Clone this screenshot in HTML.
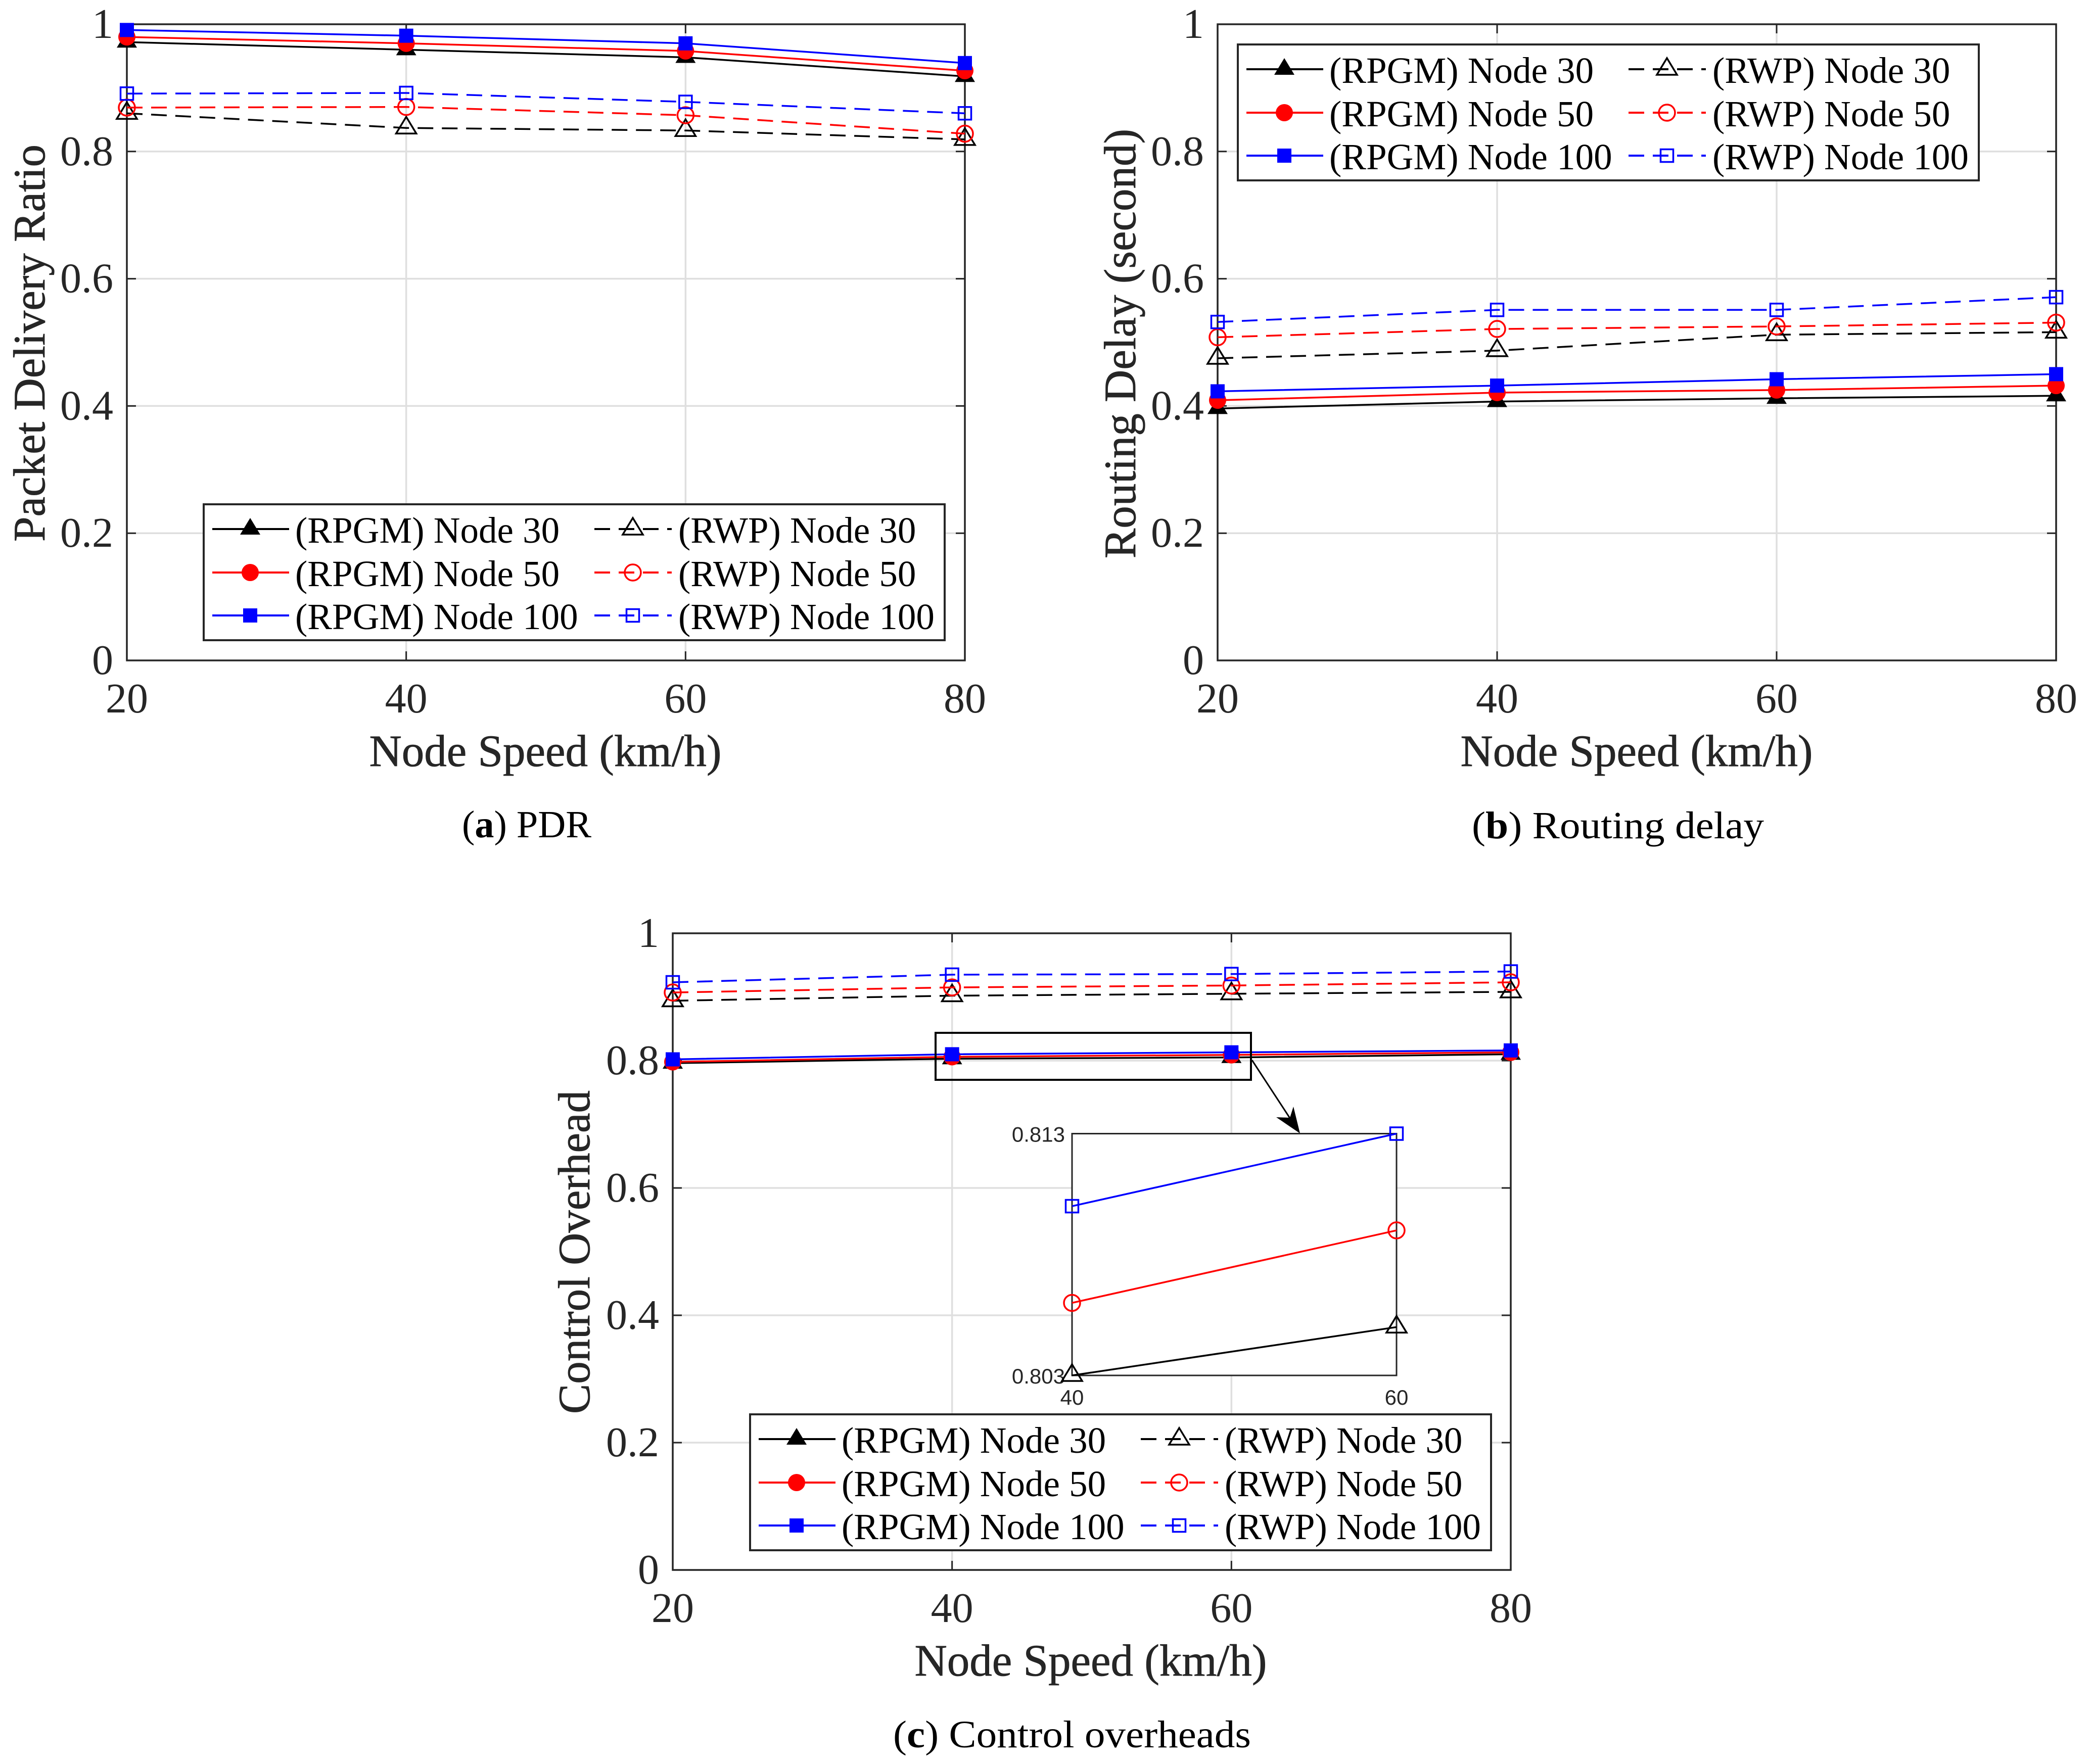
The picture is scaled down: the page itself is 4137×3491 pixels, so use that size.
<!DOCTYPE html>
<html lang="en">
<head>
<meta charset="utf-8">
<title>RPGM vs RWP performance charts</title>
<style>
  html, body { margin: 0; padding: 0; background: #fff; }
  svg { display: block; }
  text { font-family: "Liberation Serif", serif; }
</style>
</head>
<body>
<svg id="figure" xmlns="http://www.w3.org/2000/svg" width="4137" height="3491" viewBox="0 0 4137 3491">
  <rect x="0" y="0" width="4137" height="3491" fill="#ffffff"/>
  <text x="1042" y="1657" text-anchor="middle" font-size="76" textLength="256" lengthAdjust="spacingAndGlyphs" fill="#000">(<tspan font-weight="bold">a</tspan>) PDR</text>
  <text x="3201" y="1659" text-anchor="middle" font-size="76" textLength="578" lengthAdjust="spacingAndGlyphs" fill="#000">(<tspan font-weight="bold">b</tspan>) Routing delay</text>
  <text x="2121" y="3458" text-anchor="middle" font-size="76" textLength="708" lengthAdjust="spacingAndGlyphs" fill="#000">(<tspan font-weight="bold">c</tspan>) Control overheads</text>
</svg>
<script>
// Shared axis data
const speedCategories = [20, 40, 60, 80];
const yTickValues = [0, 0.2, 0.4, 0.6, 0.8, 1];
const yTickLabels = ['0', '0.2', '0.4', '0.6', '0.8', '1'];
const xTickLabels = ['20', '40', '60', '80'];
const seriesNames = ['(RPGM) Node 30', '(RPGM) Node 50', '(RPGM) Node 100', '(RWP) Node 30', '(RWP) Node 50', '(RWP) Node 100'];

// Panel (a) Packet Delivery Ratio
const pdrRpgm30 = [0.972, 0.960, 0.948, 0.918];
const pdrRpgm50 = [0.980, 0.970, 0.958, 0.927];
const pdrRpgm100 = [0.991, 0.982, 0.970, 0.939];
const pdrRwp30 = [0.860, 0.837, 0.833, 0.819];
const pdrRwp50 = [0.869, 0.870, 0.857, 0.828];
const pdrRwp100 = [0.891, 0.892, 0.878, 0.860];

// Panel (b) Routing Delay
const delayRpgm30 = [0.396, 0.407, 0.412, 0.416];
const delayRpgm50 = [0.409, 0.421, 0.425, 0.432];
const delayRpgm100 = [0.423, 0.432, 0.442, 0.450];
const delayRwp30 = [0.475, 0.487, 0.512, 0.516];
const delayRwp50 = [0.508, 0.521, 0.525, 0.531];
const delayRwp100 = [0.532, 0.551, 0.551, 0.571];

// Panel (c) Control Overhead
const overheadRpgm30 = [0.796, 0.803, 0.805, 0.810];
const overheadRpgm50 = [0.798, 0.806, 0.809, 0.813];
const overheadRpgm100 = [0.802, 0.810, 0.813, 0.816];
const overheadRwp30 = [0.894, 0.902, 0.905, 0.908];
const overheadRwp50 = [0.907, 0.915, 0.918, 0.923];
const overheadRwp100 = [0.923, 0.935, 0.936, 0.940];

// Inset of panel (c)
const insetCategories = [40, 60];
const insetYDomain = [0.803, 0.813];
const insetYTickLabels = ['0.803', '0.813'];
const insetXTickLabels = ['40', '60'];
const insetNode30 = [0.803, 0.805];
const insetNode50 = [0.806, 0.809];
const insetNode100 = [0.810, 0.813];

const SVG_NS = 'http://www.w3.org/2000/svg';
const figure = document.getElementById('figure');
const INK = '#262626';
const GRID = '#dfdfdf';
const seriesStyles = [
  { color: '#000000', shape: 'triangle', filled: true, dashed: false, slug: 'rpgm-30' },
  { color: '#ff0000', shape: 'circle', filled: true, dashed: false, slug: 'rpgm-50' },
  { color: '#0000ff', shape: 'square', filled: true, dashed: false, slug: 'rpgm-100' },
  { color: '#000000', shape: 'triangle', filled: false, dashed: true, slug: 'rwp-30' },
  { color: '#ff0000', shape: 'circle', filled: false, dashed: true, slug: 'rwp-50' },
  { color: '#0000ff', shape: 'square', filled: false, dashed: true, slug: 'rwp-100' }
];

function make(parent, tag, attrs, content) {
  const el = document.createElementNS(SVG_NS, tag);
  Object.keys(attrs).forEach(function (k) { el.setAttribute(k, attrs[k]); });
  if (content !== undefined) el.textContent = content;
  parent.appendChild(el);
  return el;
}

function xScale(p, v) {
  return p.left + (v - p.xMin) / (p.xMax - p.xMin) * (p.right - p.left);
}
function yScale(p, v) {
  return p.bottom - (v - p.yMin) / (p.yMax - p.yMin) * (p.bottom - p.top);
}

function drawMarker(parent, style, cx, cy, name) {
  const fill = style.filled ? style.color : 'none';
  const common = { fill: fill, stroke: style.color, 'stroke-width': style.filled ? 0 : 3.5 };
  let el;
  if (style.shape === 'triangle') {
    common.points = cx + ',' + (cy - 22) + ' ' + (cx + 20) + ',' + (cy + 11) + ' ' + (cx - 20) + ',' + (cy + 11);
    el = make(parent, 'polygon', common);
  } else if (style.shape === 'circle') {
    common.cx = cx; common.cy = cy; common.r = style.filled ? 17 : 16;
    el = make(parent, 'circle', common);
  } else {
    const s = style.filled ? 28 : 25;
    common.x = cx - s / 2; common.y = cy - s / 2; common.width = s; common.height = s;
    el = make(parent, 'rect', common);
  }
  
  
  return el;
}

function drawLine(parent, pts, style, name, width) {
  const attrs = {
    points: pts.map(function (q) { return q[0] + ',' + q[1]; }).join(' '),
    fill: 'none', stroke: style.color, 'stroke-width': width || 3.5
  };
  if (style.dashed) attrs['stroke-dasharray'] = '31 17';
  const el = make(parent, 'polyline', attrs);
  
  
  return el;
}

function drawPanel(p) {
  const g = make(figure, 'g', {});
  
  

  // grid
  speedCategories.forEach(function (v) {
    const x = xScale(p, v);
    const el = make(g, 'line', { x1: x, x2: x, y1: p.top, y2: p.bottom, stroke: GRID, 'stroke-width': 3.5 });
    
    
  });
  yTickValues.forEach(function (v) {
    const y = yScale(p, v);
    const el = make(g, 'line', { x1: p.left, x2: p.right, y1: y, y2: y, stroke: GRID, 'stroke-width': 3.5 });
    
    
  });

  // ticks and tick labels
  speedCategories.forEach(function (v, i) {
    const x = xScale(p, v);
    const b = make(g, 'line', { x1: x, x2: x, y1: p.bottom, y2: p.bottom - 18, stroke: INK, 'stroke-width': 3 });
    
    
    const t = make(g, 'line', { x1: x, x2: x, y1: p.top, y2: p.top + 18, stroke: INK, 'stroke-width': 3 });
    
    
    const lab = make(g, 'text', { x: x, y: p.bottom + 103, 'text-anchor': 'middle', 'font-size': 84, fill: INK }, xTickLabels[i]);
    
    
  });
  yTickValues.forEach(function (v, i) {
    const y = yScale(p, v);
    const l = make(g, 'line', { x1: p.left, x2: p.left + 18, y1: y, y2: y, stroke: INK, 'stroke-width': 3 });
    
    
    const r = make(g, 'line', { x1: p.right, x2: p.right - 18, y1: y, y2: y, stroke: INK, 'stroke-width': 3 });
    
    
    const lab = make(g, 'text', { x: p.left - 27, y: y + 27, 'text-anchor': 'end', 'font-size': 84, fill: INK }, yTickLabels[i]);
    
    
  });

  // frame
  const frame = make(g, 'rect', { x: p.left, y: p.top, width: p.right - p.left, height: p.bottom - p.top, fill: 'none', stroke: INK, 'stroke-width': 3.5 });
  
  

  // axis titles
  const xt = make(g, 'text', { x: p.xLabelX, y: p.bottom + 209, 'text-anchor': 'middle', 'font-size': 89, fill: INK, stroke: INK, 'stroke-width': 0.8 }, 'Node Speed (km/h)');
  
  
  const yt = make(g, 'text', { x: 0, y: 0, 'text-anchor': 'middle', 'font-size': 89, fill: INK, stroke: INK, 'stroke-width': 0.8, transform: 'translate(' + p.yLabelX + ' ' + p.yLabelY + ') rotate(-90)' }, p.yTitle);
  
  

  // series
  p.series.forEach(function (values, s) {
    const style = seriesStyles[s];
    const sg = make(g, 'g', {});
    
    
    const pts = values.map(function (v, i) { return [xScale(p, speedCategories[i]), yScale(p, v)]; });
    drawLine(sg, pts, style, 'line-' + style.slug);
    pts.forEach(function (q) { drawMarker(sg, style, q[0], q[1], 'marker-' + style.slug); });
  });
  return g;
}

function drawLegend(left, top) {
  const g = make(figure, 'g', {});
  
  
  const box = make(g, 'rect', { x: left, y: top, width: 1466, height: 269, fill: '#ffffff', stroke: INK, 'stroke-width': 4 });
  
  
  const rows = [49, 135, 220];
  const cols = [{ a: 17, b: 169, m: 92, t: 181 }, { a: 773, b: 926, m: 849, t: 939 }];
  seriesStyles.forEach(function (style, s) {
    const col = cols[s < 3 ? 0 : 1];
    const y = top + rows[s % 3];
    const entry = make(g, 'g', {});
    
    
    drawLine(entry, [[left + col.a, y], [left + col.b, y]], style, 'legend-line-' + style.slug, 4);
    drawMarker(entry, style, left + col.m, y, 'legend-marker-' + style.slug);
    const t = make(entry, 'text', { x: left + col.t, y: y + 27, 'font-size': 73, fill: '#000' }, seriesNames[s]);
    
    
  });
}

const panelA = {
  slug: 'chart-packet-delivery-ratio', left: 251, right: 1909, top: 48, bottom: 1307,
  xMin: 20, xMax: 80, yMin: 0, yMax: 1, xLabelX: 1079, yLabelX: 88, yLabelY: 679,
  yTitle: 'Packet Delivery Ratio',
  series: [pdrRpgm30, pdrRpgm50, pdrRpgm100, pdrRwp30, pdrRwp50, pdrRwp100]
};
const panelB = {
  slug: 'chart-routing-delay', left: 2409, right: 4068, top: 48, bottom: 1307,
  xMin: 20, xMax: 80, yMin: 0, yMax: 1, xLabelX: 3238, yLabelX: 2246, yLabelY: 680,
  yTitle: 'Routing Delay (second)',
  series: [delayRpgm30, delayRpgm50, delayRpgm100, delayRwp30, delayRwp50, delayRwp100]
};
const panelC = {
  slug: 'chart-control-overhead', left: 1331, right: 2989, top: 1847, bottom: 3107,
  xMin: 20, xMax: 80, yMin: 0, yMax: 1, xLabelX: 2158, yLabelX: 1166, yLabelY: 2478,
  yTitle: 'Control Overhead',
  series: [overheadRpgm30, overheadRpgm50, overheadRpgm100, overheadRwp30, overheadRwp50, overheadRwp100]
};

drawPanel(panelA);
drawLegend(403, 998);
drawPanel(panelB);
drawLegend(2449, 88);
drawPanel(panelC);

// Zoom callout
const zoomBox = make(figure, 'rect', { x: 1851, y: 2044, width: 624, height: 93, fill: 'none', stroke: '#000', 'stroke-width': 4 });


const arrowShaft = make(figure, 'line', { x1: 2477, y1: 2098, x2: 2560, y2: 2225, stroke: '#000', 'stroke-width': 3 });


const arrowHead = make(figure, 'polygon', { points: '2572,2243 2559,2190 2552,2212 2525,2211', fill: '#000' });



// Inset
const inset = { left: 2121, right: 2763, top: 2243.5, bottom: 2722, xMin: insetCategories[0], xMax: insetCategories[1], yMin: insetYDomain[0], yMax: insetYDomain[1] };
const insetGroup = make(figure, 'g', {});


const insetFrame = make(insetGroup, 'rect', { x: inset.left, y: inset.top, width: inset.right - inset.left, height: inset.bottom - inset.top, fill: '#ffffff', stroke: INK, 'stroke-width': 3 });


insetYDomain.forEach(function (v, i) {
  const t = make(insetGroup, 'text', { x: inset.left - 14, y: yScale(inset, v) + 16, 'text-anchor': 'end', 'font-size': 42, fill: INK, style: 'font-family:"Liberation Sans",sans-serif' }, insetYTickLabels[i]);
  
  
});
insetCategories.forEach(function (v, i) {
  const t = make(insetGroup, 'text', { x: xScale(inset, v), y: inset.bottom + 58, 'text-anchor': 'middle', 'font-size': 42, fill: INK, style: 'font-family:"Liberation Sans",sans-serif' }, insetXTickLabels[i]);
  
  
});
const insetSeries = [insetNode30, insetNode50, insetNode100];
insetSeries.forEach(function (values, s) {
  const base = seriesStyles[s + 3];
  const style = { color: base.color, shape: base.shape, filled: false, dashed: false, slug: base.slug };
  const sg = make(insetGroup, 'g', {});
  
  
  const pts = values.map(function (v, i) { return [xScale(inset, insetCategories[i]), yScale(inset, v)]; });
  drawLine(sg, pts, style, 'inset-line-' + base.slug);
  pts.forEach(function (q) { drawMarker(sg, style, q[0], q[1], 'inset-marker-' + base.slug); });
});

drawLegend(1484, 2799);
</script>
</body>
</html>
